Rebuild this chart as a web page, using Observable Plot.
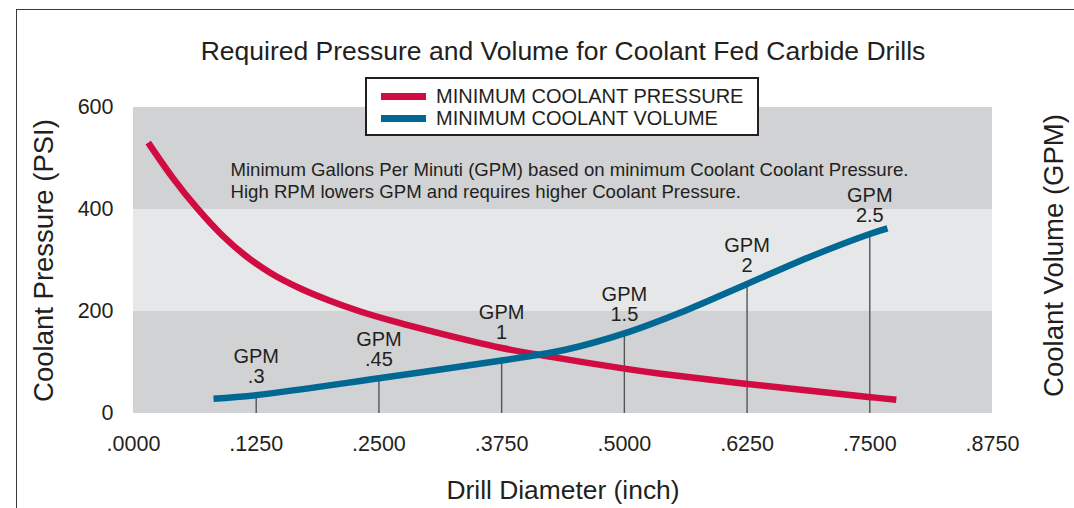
<!DOCTYPE html>
<html>
<head>
<meta charset="utf-8">
<script src="https://cdn.jsdelivr.net/npm/d3@7"></script>
<script src="https://cdn.jsdelivr.net/npm/@observablehq/plot@0.6"></script>
<style>
  body { margin: 0; background: #fff; font-family: "Liberation Sans", Arial, Helvetica, sans-serif; color: #231f20; }
  #wrap { position: relative; width: 1074px; height: 508px; overflow: hidden; background: #fff; }
  #frame { position: absolute; left: 16px; top: 9px; width: 1080px; height: 520px;
           border-top: 1.5px solid #3a3a3a; border-left: 1.5px solid #3a3a3a; pointer-events: none; }
  #chart { position: absolute; left: 0; top: 0; }
  #legend { position: absolute; left: 365px; top: 77px; width: 390px; height: 55px;
            border: 2px solid #231f20; background: #fff; }
  .row { position: absolute; left: 0; height: 22px; width: 100%; }
  .sw { position: absolute; left: 14px; width: 45px; height: 7px; }
  .lab { position: absolute; left: 69px; font-size: 20px; line-height: 22px; white-space: nowrap; }
</style>
</head>
<body>
<div id="wrap">
  <div id="chart"></div>
  <div id="frame"></div>
  <div id="legend"></div>
</div>
<script>
// Axis ticks
const xTicks = [0, 0.125, 0.25, 0.375, 0.5, 0.625, 0.75, 0.875];
const yTicks = [0, 200, 400, 600];

// Shaded pressure bands (PSI)
const bandFrom = [0, 200, 400];
const bandTo = [200, 400, 600];

// Minimum coolant pressure (PSI) by drill diameter (inch)
const pressureDia = [0.015, 0.04, 0.065, 0.09, 0.115, 0.14, 0.17, 0.2, 0.231, 0.27, 0.3, 0.374, 0.435, 0.5, 0.537, 0.616, 0.751, 0.777];
const pressurePsi = [531, 462, 402, 350, 308, 275, 245, 221, 200, 178, 163, 129, 108, 88, 78, 60, 32, 27];

// Minimum coolant volume curve, drawn on the shared vertical scale
const volumeDia = [0.0815, 0.125, 0.25, 0.375, 0.44, 0.5, 0.5625, 0.625, 0.69, 0.75, 0.768];
const volumeLevel = [29, 36, 69, 104, 125, 157, 202, 254, 308, 352, 363];

// GPM call-outs at standard diameters
const gpmDia = [0.125, 0.25, 0.375, 0.5, 0.625, 0.75];
const gpmText = [".3", ".45", "1", "1.5", "2", "2.5"];

const seriesNames = ["MINIMUM COOLANT PRESSURE", "MINIMUM COOLANT VOLUME"];
const titleText = "Required Pressure and Volume for Coolant Fed Carbide Drills";
const noteText = "Minimum Gallons Per Minuti (GPM) based on minimum Coolant Coolant Pressure.\nHigh RPM lowers GPM and requires higher Coolant Pressure.";

const RED = "#d00c42";
const BLUE = "#006892";
const INK = "#231f20";
const FONT = "'Liberation Sans', Arial, Helvetica, sans-serif";

const bands = bandFrom.map((lo, i) => ({lo, hi: bandTo[i], shade: i % 2 === 1 ? "#e6e7e8" : "#d1d2d4"}));
const pressure = pressureDia.map((x, i) => ({x, y: pressurePsi[i]}));
const volume = volumeDia.map((x, i) => ({x, y: volumeLevel[i]}));
const levelAt = x => volume.find(d => Math.abs(d.x - x) < 1e-9).y;
const gpm = gpmDia.map((x, i) => ({x, y: levelAt(x), label: gpmText[i]}));

const fmtX = d => d3.format(".4f")(d).replace(/^0/, "");

const chart = Plot.plot({
  width: 1074,
  height: 508,
  marginLeft: 133,
  marginRight: 82,
  marginTop: 107,
  marginBottom: 95,
  style: {fontFamily: FONT, color: INK, background: "transparent", overflow: "visible"},
  x: {domain: [0, 0.875]},
  y: {domain: [0, 600]},
  marks: [
    Plot.rect(bands, {y1: "lo", y2: "hi", fill: "shade"}),
    Plot.axisY({ticks: yTicks, tickSize: 0, tickPadding: 20, fontSize: 21.5, label: null}),
    Plot.axisX({ticks: xTicks, tickSize: 0, tickPadding: 22, fontSize: 21.5, label: null, tickFormat: fmtX}),
    Plot.ruleX(gpm, {x: "x", y1: 0, y2: "y", stroke: "#555", strokeWidth: 1.4}),
    Plot.line(pressure, {x: "x", y: "y", stroke: RED, strokeWidth: 6.5, curve: "catmull-rom", strokeLinecap: "butt"}),
    Plot.line(volume, {x: "x", y: "y", stroke: BLUE, strokeWidth: 6.5, curve: "catmull-rom", strokeLinecap: "butt"}),
    Plot.text(gpm.filter(d => d.label !== "1"), {x: "x", y: "y", text: d => "GPM\n" + d.label, lineAnchor: "bottom", lineHeight: 1, dy: -12, fontSize: 20, fill: INK}),
    Plot.text(gpm.filter(d => d.label === "1"), {x: "x", y: "y", text: d => "GPM\n" + d.label, lineAnchor: "bottom", lineHeight: 1, dy: -21, fontSize: 20, fill: INK}),
    Plot.text([noteText], {frameAnchor: "top-left", dx: 97, dy: 52, textAnchor: "start", lineAnchor: "top", lineHeight: 1.22, fontSize: 18.6, fill: INK}),
    Plot.text([titleText], {frameAnchor: "top", dy: -66.5, lineAnchor: "top", fontSize: 26.5, fill: INK}),
    Plot.text(["Drill Diameter (inch)"], {frameAnchor: "bottom", dy: 67, lineAnchor: "top", fontSize: 26.4, fill: INK}),
    Plot.text(["Coolant Pressure (PSI)"], {frameAnchor: "left", textAnchor: "middle", dx: -89, rotate: -90, fontSize: 27.5, fill: INK}),
    Plot.text(["Coolant Volume (GPM)"], {frameAnchor: "right", textAnchor: "middle", dx: 62, dy: -5, rotate: -90, fontSize: 27.5, fill: INK})
  ]
});
document.getElementById("chart").appendChild(chart);

// Legend box
const legend = document.getElementById("legend");
[RED, BLUE].forEach((c, i) => {
  const row = document.createElement("div");
  row.className = "row";
  row.style.top = (6 + i * 22) + "px";
  const sw = document.createElement("div");
  sw.className = "sw";
  sw.style.background = c;
  sw.style.top = "8px";
  const lab = document.createElement("div");
  lab.className = "lab";
  lab.textContent = seriesNames[i];
  row.appendChild(sw);
  row.appendChild(lab);
  legend.appendChild(row);
});
</script>
</body>
</html>
